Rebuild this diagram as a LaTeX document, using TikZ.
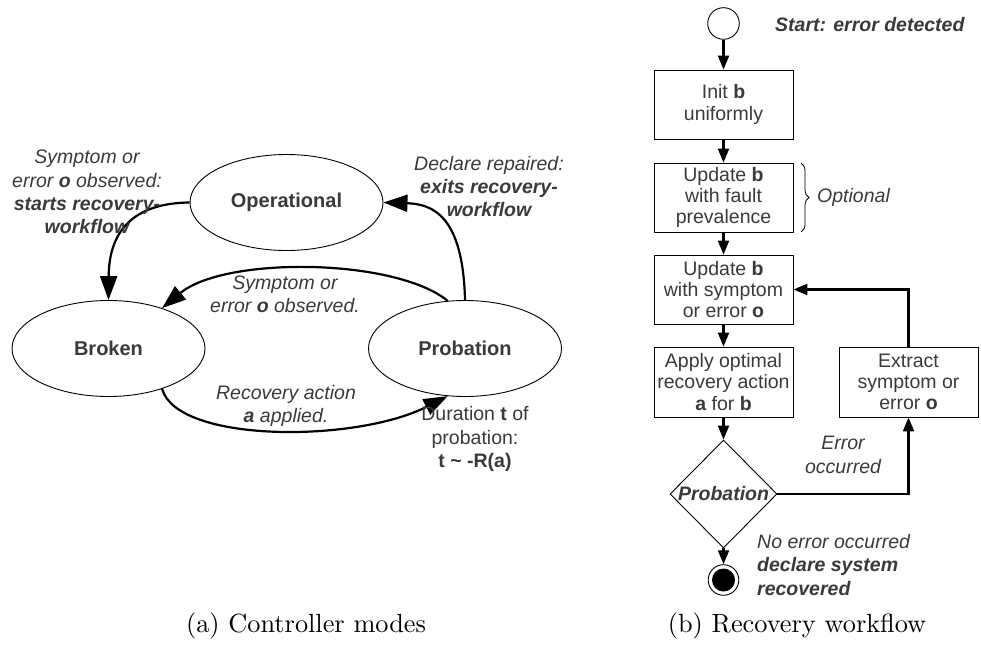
\documentclass[tikz,border=0pt]{standalone}
\usepackage{fontspec}
\usetikzlibrary{shapes.geometric,arrows.meta,decorations.pathreplacing}
\newfontfamily\arial{Liberation Sans}
\newfontfamily\capfont{lmroman10-regular}[Extension=.otf]
\definecolor{txt}{RGB}{58,58,58}
\tikzset{
  x=1pt, y=-1pt,
  lbl/.style={font=\arial\fontsize{19.5}{23.3}\selectfont, text=txt, align=center, inner sep=0pt},
  state/.style={ellipse, draw, line width=0.9pt, minimum width=193pt, minimum height=96pt, inner sep=0pt,
     font=\arial\bfseries\fontsize{20}{24}\selectfont, text=txt},
  stepbox/.style={rectangle, draw, line width=0.9pt, minimum width=139pt, minimum height=69pt, inner sep=0pt,
     align=center, font=\arial\fontsize{19.5}{21.3}\selectfont, text=txt},
  bigarrow/.style={line width=2.2pt, -{Triangle[length=24pt,width=17pt]}},
  flow/.style={line width=2.2pt, -{Triangle[length=14pt,width=11pt]}},
  caption/.style={font=\capfont\fontsize{26.3}{30}\selectfont, inner sep=0pt}
}
\begin{document}
\begin{tikzpicture}
\useasboundingbox (0,0) rectangle (981,647);
% ---------- (a) controller modes ----------
\node[state] (op) at (286.5,202.5) {Operational};
\node[state] (br) at (108.5,348.5) {Broken};
\node[state] (pr) at (465,348.5) {Probation};

\draw[bigarrow] (op.west) .. controls (140,203) and (109,225) .. (br.north);
\draw[bigarrow] (pr.110) .. controls (395,258) and (225,256) .. (br.37);
\draw[bigarrow] (br.-37) .. controls (177,443) and (355,443) .. (pr.-110);
\draw[bigarrow] (pr.north) .. controls (463,215) and (432,204) .. (op.east);

\node[lbl] (l1) at (87,192) {\itshape Symptom or\\ \itshape error \textbf{o} observed:\\ \bfseries\itshape starts recovery-\\ \bfseries\itshape workflow};
\node[lbl] (l2) at (489,186.5) {\itshape Declare repaired:\\ \bfseries\itshape exits recovery-\\ \bfseries\itshape workflow};
\node[lbl] (l3) at (285,294) {\itshape Symptom or\\ \itshape error \textbf{o} observed.};
\node[lbl] (l4) at (286,406) {\itshape Recovery action\\ \itshape \textbf{a} applied.};
\node[lbl] (l5) at (475,439) {Duration \textbf{t} of\\ probation:\\ \bfseries t \char`~\ -R(a)};

\node[caption] (capa) at (306,626) {(a) Controller modes};

% ---------- (b) recovery workflow ----------
\node[circle, draw, line width=0.9pt, minimum size=31.6pt, inner sep=0pt] (start) at (723.5,23.5) {};
\node[lbl, anchor=west] (startl) at (775,25) {\bfseries\itshape Start: error detected};

\node[stepbox] (init) at (723.5,104.5) {Init \textbf{b}\\ uniformly\vphantom{A}};
\node[stepbox] (upd1) at (723.5,197.5) {Update \textbf{b}\\ with fault\\ prevalence};
\node[stepbox] (upd2) at (723.5,289.5) {Update \textbf{b}\\ with symptom\\ or error \textbf{o}};
\node[stepbox, minimum height=70pt] (apply) at (723.5,382) {Apply optimal\\ recovery action\\ \textbf{a} for \textbf{b}};
\node[stepbox, minimum height=70pt] (extr) at (908.5,382) {Extract\\ symptom or\\ error \textbf{o}};

\node[diamond, draw, line width=0.9pt, minimum width=107pt, minimum height=108pt, inner sep=0pt] (dia) at (723.5,494) {};
\node[lbl] (dial) at (dia.center) {\bfseries\itshape Probation};

\node[circle, draw, line width=0.9pt, minimum size=30.6pt, inner sep=0pt] (end) at (723.5,580) {};
\fill (end.center) circle (11.5);

\draw[decorate, decoration={brace, amplitude=8pt}, line width=0.8pt] (801,163) -- (801,232);
\node[lbl, anchor=west] (opt) at (817,197) {\itshape Optional};

\node[lbl] (errl) at (843,455) {\itshape Error\\ \itshape occurred};
\node[lbl, align=left, anchor=west] (noerr) at (757,565) {\itshape No error occurred\\ \bfseries\itshape declare system\\ \bfseries\itshape recovered};

\draw[flow] (start.south) -- (init.north);
\draw[flow] (init.south) -- (upd1.north);
\draw[flow] (upd1.south) -- (upd2.north);
\draw[flow] (upd2.south) -- (apply.north);
\draw[flow] (apply.south) -- (dia.north);
\draw[flow] (dia.south) -- (end.north);
\draw[flow] (dia.east) -| (extr.south);
\draw[flow] (extr.north) |- (upd2.east);

\node[caption] (capb) at (797,626) {(b) Recovery workflow};
\end{tikzpicture}
\end{document}
